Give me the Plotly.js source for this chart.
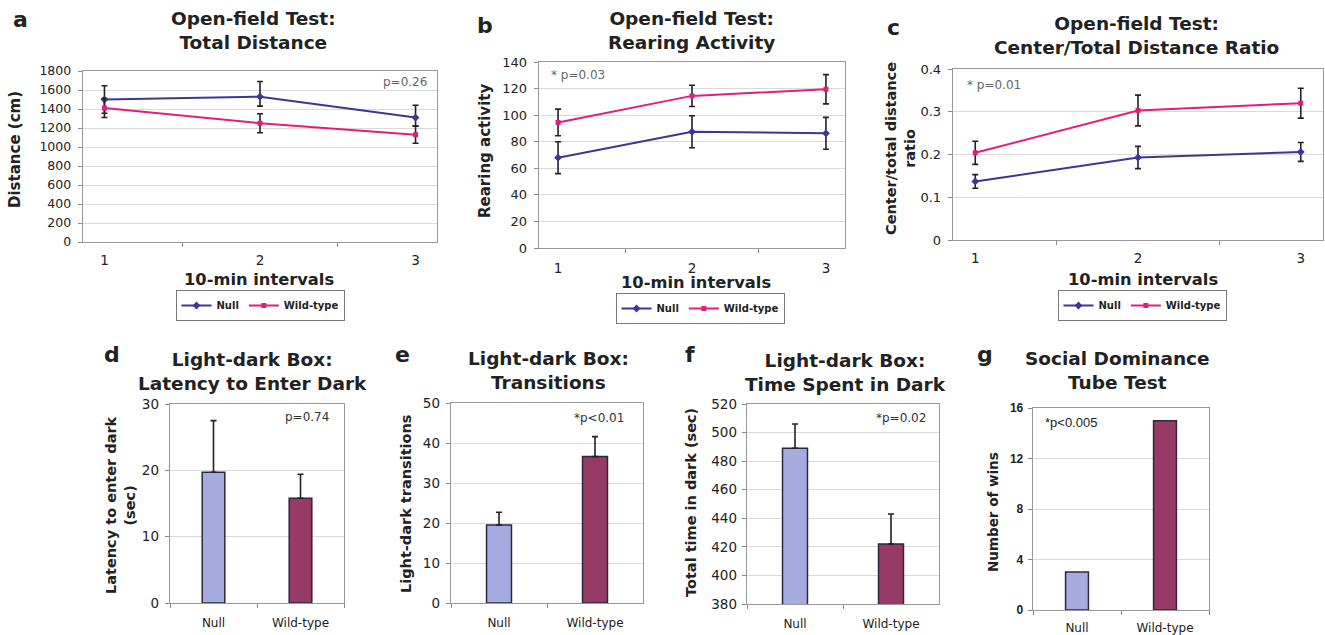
<!DOCTYPE html>
<html><head><meta charset="utf-8">
<script src="https://cdn.plot.ly/plotly-3.0.1.min.js"></script>
<style>html,body{margin:0;padding:0;background:#fff}#chart{width:1325px;height:635px}</style>
</head><body><div id="chart"></div>
<script>
// ---- data ----
const intervals = ["1", "2", "3"];
const seriesNames = ["Null", "Wild-type"];
const distNull = [1500, 1530, 1310];
const distNullErrUp = [145, 160, 130];
const distNullErrDown = [145, 100, 90];
const distWild = [1410, 1250, 1130];
const distWildErr = [100, 100, 90];
const rearNull = [68, 87.5, 86.3];
const rearNullErr = [12, 12, 12];
const rearWild = [94.5, 114.5, 119.5];
const rearWildErr = [10, 8, 11];
const ratioNull = [0.137, 0.193, 0.206];
const ratioNullErr = [0.016, 0.026, 0.022];
const ratioWild = [0.204, 0.303, 0.320];
const ratioWildErr = [0.027, 0.036, 0.035];
const groups = ["Null", "Wild-type"];
const latency = [19.7, 15.8];
const latencyErr = [7.8, 3.6];
const transitions = [19.5, 36.6];
const transitionsErr = [3.2, 5.0];
const darkTime = [489, 422];
const darkTimeErr = [17, 21];
const wins = [3, 15];

// ---- helpers ----
const W = 1325, H = 635;
const px = x => x / W;
const py = y => 1 - y / H;
const FONT = "DejaVu Sans";
const NULL_LINE = "#3c3796", WILD_LINE = "#e11e7d";
const NULL_BAR = "#a6acdf", WILD_BAR = "#973a66";

function lineTrace(name, y, up, down, xa, ya, legend, color, symbol, size) {
  return {
    type: "scatter", mode: "lines+markers", name: name, x: intervals, y: y,
    xaxis: xa, yaxis: ya, legend: legend,
    line: {color: color, width: 2},
    marker: {color: color, symbol: symbol, size: size},
    error_y: {type: "data", symmetric: false, array: up, arrayminus: down,
              color: "#222", thickness: 1.6, width: 3}
  };
}
function barTrace(y, err, xa, ya) {
  const t = {
    type: "bar", x: groups, y: y, xaxis: xa, yaxis: ya, width: 0.26,
    showlegend: false,
    marker: {color: [NULL_BAR, WILD_BAR], line: {color: "#2a2a3a", width: 1.5}}
  };
  if (err) t.error_y = {type: "data", symmetric: false, array: err, arrayminus: [0, 0],
                        color: "#222", thickness: 1.6, width: 3};
  return t;
}

const data = [
  lineTrace(seriesNames[0], distNull, distNullErrUp, distNullErrDown, "x", "y", "legend", NULL_LINE, "diamond", 6),
  lineTrace(seriesNames[1], distWild, distWildErr, distWildErr, "x", "y", "legend", WILD_LINE, "square", 5),
  lineTrace(seriesNames[0], rearNull, rearNullErr, rearNullErr, "x2", "y2", "legend2", NULL_LINE, "diamond", 6),
  lineTrace(seriesNames[1], rearWild, rearWildErr, rearWildErr, "x2", "y2", "legend2", WILD_LINE, "square", 5),
  lineTrace(seriesNames[0], ratioNull, ratioNullErr, ratioNullErr, "x3", "y3", "legend3", NULL_LINE, "diamond", 6),
  lineTrace(seriesNames[1], ratioWild, ratioWildErr, ratioWildErr, "x3", "y3", "legend3", WILD_LINE, "square", 5),
  barTrace(latency, latencyErr, "x4", "y4"),
  barTrace(transitions, transitionsErr, "x5", "y5"),
  barTrace(darkTime, darkTimeErr, "x6", "y6"),
  barTrace(wins, null, "x7", "y7")
];

function xax(x0, x1, anchor, size, standoff) {
  return {domain: [px(x0), px(x1)], anchor: anchor, type: "category",
    tickson: "boundaries", ticks: "outside", ticklen: 4, tickcolor: "#888",
    showline: true, mirror: true, linecolor: "#999", linewidth: 1.3,
    showgrid: false, zeroline: false, fixedrange: true,
    ticklabelstandoff: standoff,
    tickfont: {family: FONT, size: size, color: "#222"}};
}
function yax(y0, y1, anchor, range, dtick, font, standoff) {
  return {domain: [py(y1), py(y0)], anchor: anchor, range: range, dtick: dtick,
    ticks: "outside", ticklen: 4, tickcolor: "#888",
    showline: true, mirror: true, linecolor: "#999", linewidth: 1.3,
    showgrid: true, gridcolor: "#dadada", gridwidth: 1, zeroline: false, fixedrange: true,
    ticklabelstandoff: standoff, tickfont: font};
}
const tf = (s) => ({family: FONT, size: s, color: "#222"});

function ann(text, x, y, size, opts) {
  return Object.assign({text: text, x: px(x), y: py(y), xref: "paper", yref: "paper",
    showarrow: false, xanchor: "center", yanchor: "middle",
    font: {family: FONT, size: size, color: "#222"}}, opts || {});
}
function legendCfg(x, y) {
  return {x: px(x), y: py(y), xanchor: "center", yanchor: "top", orientation: "h",
    bordercolor: "#777", borderwidth: 1, bgcolor: "#fff",
    font: {family: FONT, size: 10, color: "#222", weight: "bold"},
    itemwidth: 30, tracegroupgap: 0};
}

const TS = 18.5;
const annotations = [
  // panel letters
  ann("<b>a</b>", 21, 20, 22), ann("<b>b</b>", 485, 25, 22), ann("<b>c</b>", 893, 27, 22),
  ann("<b>d</b>", 112, 354, 22), ann("<b>e</b>", 402, 354, 22), ann("<b>f</b>", 690, 354, 22),
  ann("<b>g</b>", 985, 354, 22),
  // titles
  ann("<b>Open-field Test:<br>Total Distance</b>", 253, 31, TS),
  ann("<b>Open-field Test:<br>Rearing Activity</b>", 691, 30, TS),
  ann("<b>Open-field Test:<br>Center/Total Distance Ratio</b>", 1136, 36, TS),
  ann("<b>Light-dark Box:<br>Latency to Enter Dark</b>", 252, 371, TS),
  ann("<b>Light-dark Box:<br>Transitions</b>", 548, 370, TS),
  ann("<b>Light-dark Box:<br>Time Spent in Dark</b>", 845, 372, TS),
  ann("<b>Social Dominance<br>Tube Test</b>", 1117, 370, TS),
  // x titles
  ann("<b>10-min intervals</b>", 259, 279, 16.3),
  ann("<b>10-min intervals</b>", 696, 282, 16.3),
  ann("<b>10-min intervals</b>", 1143, 279, 16.3),
  // y titles
  ann("<b>Distance (cm)</b>", 15, 150, 15, {textangle: -90}),
  ann("<b>Rearing activity</b>", 485, 151, 15, {textangle: -90}),
  ann("<b>Center/total distance<br>ratio</b>", 900, 149, 14.5, {textangle: -90}),
  ann("<b>Latency to enter dark<br>(sec)</b>", 120, 505, 14.5, {textangle: -90}),
  ann("<b>Light-dark transitions</b>", 406, 504, 14.5, {textangle: -90}),
  ann("<b>Total time in dark (sec)</b>", 691, 503, 14.5, {textangle: -90}),
  ann("<b>Number of wins</b>", 993, 512, 13.5, {textangle: -90}),
  // p values
  ann("p=0.26", 405, 82, 12, {font: {family: FONT, size: 12, color: "#666"}}),
  ann("* p=0.03", 578, 75, 12, {font: {family: FONT, size: 12, color: "#666"}}),
  ann("* p=0.01", 994, 85, 12, {font: {family: FONT, size: 12, color: "#666"}}),
  ann("p=0.74", 307, 417, 12, {font: {family: FONT, size: 12, color: "#333"}}),
  ann("*p<0.01", 599, 418, 12, {font: {family: FONT, size: 12, color: "#333"}}),
  ann("*p=0.02", 901, 418, 12, {font: {family: FONT, size: 12, color: "#333"}}),
  ann("*p<0.005", 1071, 422, 13, {font: {family: "Liberation Sans", size: 13, color: "#222"}})
];

const layout = {
  width: W, height: H, margin: {l: 0, r: 0, t: 0, b: 0},
  paper_bgcolor: "#fff", plot_bgcolor: "#fff", showlegend: true,
  hovermode: false, font: {family: FONT, color: "#222"},
  xaxis: xax(83, 437, "y", 13.5, 5),
  yaxis: yax(71, 242, "x", [0, 1800], 200, tf(12.5), 4),
  xaxis2: xax(539, 845, "y2", 13.5, 7),
  yaxis2: yax(62, 248, "x2", [0, 140], 20, tf(13), 4),
  xaxis3: xax(953, 1323, "y3", 13.5, 5),
  yaxis3: yax(69, 240, "x3", [0, 0.4], 0.1, tf(13), 4),
  xaxis4: xax(170, 344, "y4", 12, 8),
  yaxis4: yax(404, 603, "x4", [0, 30], 10, tf(13.5), 3),
  xaxis5: xax(451, 643, "y5", 12, 8),
  yaxis5: yax(403, 603, "x5", [0, 50], 10, tf(13.5), 3),
  xaxis6: xax(747, 939, "y6", 12, 8),
  yaxis6: yax(404, 604, "x6", [380, 520], 20, tf(13.5), 2),
  xaxis7: xax(1033, 1209, "y7", 12, 6),
  yaxis7: yax(408, 610, "x7", [0, 16], 4, {family: "Liberation Sans", size: 12, color: "#222", weight: "bold"}, 2),
  legend: legendCfg(260, 290),
  legend2: legendCfg(700, 293),
  legend3: legendCfg(1142, 290),
  annotations: annotations
};

Plotly.newPlot("chart", data, layout, {displayModeBar: false, staticPlot: true});
</script>
</body></html>
